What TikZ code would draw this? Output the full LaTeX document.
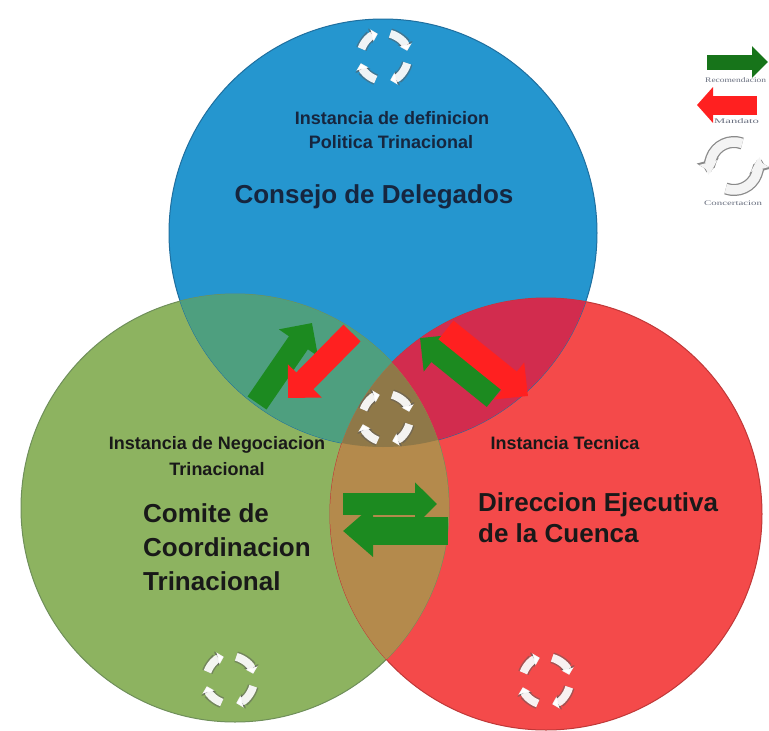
\documentclass[tikz,border=0pt]{standalone}
\usepackage{fontspec}
\setmainfont{Liberation Sans}
\newfontfamily\legfont{Liberation Serif}
\usetikzlibrary{arrows.meta}
\definecolor{cblue}{HTML}{2596CF}
\definecolor{cgreen}{HTML}{8DB360}
\definecolor{cred}{HTML}{F44A4A}
\definecolor{cbg}{HTML}{4E9F7F}
\definecolor{cbr}{HTML}{D22C4E}
\definecolor{cgr}{HTML}{B48A4C}
\definecolor{cbgr}{HTML}{8F7848}
\definecolor{eblue}{HTML}{1F6F9F}
\definecolor{egreen}{HTML}{6F8F5A}
\definecolor{ered}{HTML}{C03838}
\definecolor{arrgreen}{HTML}{1C8A20}
\definecolor{legdkgreen}{HTML}{17741A}
\definecolor{arrred}{HTML}{FF2020}
\definecolor{navytext}{HTML}{16263F}
\definecolor{legtext}{HTML}{6A7080}
\definecolor{cycedge}{HTML}{5A5A5A}
\definecolor{legedge}{HTML}{8A8A8A}
\definecolor{legfill}{HTML}{F4F4F4}
\begin{document}
\begin{tikzpicture}[x=1pt,y=-1pt,
  small/.style={font=\bfseries\fontsize{18}{23}\selectfont, inner sep=0pt},
  big/.style={font=\bfseries\fontsize{26}{34}\selectfont, inner sep=0pt},
  legtxt/.style={font=\legfont\fontsize{7}{8}\selectfont, text=legtext, inner sep=0pt, anchor=west},
  garrow/.style={draw=arrgreen, line width=23pt, -{Triangle[length=24pt,width=46pt]}},
  rarrow/.style={draw=arrred, line width=24pt, -{Triangle[length=24pt,width=46pt]}},
  cyc/.pic={
    \begin{scope}[yscale=-1]
      \foreach \a/\b in {160/105, 75/15, 250/195, 345/285}{
        \draw[line width=11pt, draw=cycedge, draw opacity=0.5, -{Triangle[length=8pt,width=15pt]}]
          (\a:24) arc[start angle=\a, end angle=\b, radius=24];
      }
      \foreach \a/\b in {160/105, 75/15, 250/195, 345/285}{
        \draw[line width=8pt, draw=white, draw opacity=0.92, -{Triangle[length=6pt,width=12pt]}]
          (\a:24) arc[start angle=\a, end angle=\b, radius=24];
      }
    \end{scope}
  },
  legcyc/.pic={
    \begin{scope}[yscale=-1]
      \foreach \a/\b in {70/195, 250/375}{
        \draw[line width=12pt, draw=legedge, -{Triangle[length=12pt,width=22pt]}]
          (\a:24) arc[start angle=\a, end angle=\b, radius=24];
      }
      \foreach \a/\b in {70/195, 250/375}{
        \draw[line width=9.5pt, draw=legfill, -{Triangle[length=10pt,width=18pt]}]
          (\a:24) arc[start angle=\a, end angle=\b, radius=24];
      }
    \end{scope}
  }
]
\useasboundingbox (0,0) rectangle (769,731);
\fill[white] (0,0) rectangle (769,731);

\coordinate (cB) at (383,233);
\coordinate (cG) at (235,508);
\coordinate (cR) at (546,514);

% circles
\fill[cblue] (cB) circle[radius=214];
\fill[cgreen] (cG) circle[radius=214];
\fill[cred] (cR) circle[radius=216];
\draw[eblue, line width=1pt] (cB) circle[radius=214];
\draw[egreen, line width=1pt] (cG) circle[radius=214];
\draw[ered, line width=1pt] (cR) circle[radius=216];

% overlaps
\begin{scope}
  \clip (cB) circle[radius=214];
  \fill[cbg] (cG) circle[radius=214];
\end{scope}
\begin{scope}
  \clip (cB) circle[radius=214];
  \fill[cbr] (cR) circle[radius=216];
\end{scope}
\begin{scope}
  \clip (cG) circle[radius=214];
  \fill[cgr] (cR) circle[radius=216];
\end{scope}
\begin{scope}
  \clip (cB) circle[radius=214];
  \clip (cG) circle[radius=214];
  \fill[cbgr] (cR) circle[radius=216];
\end{scope}

% arrows: upper left
\coordinate (ulgT) at (257,403);
\coordinate (ulgH) at (312,323);
\coordinate (ulrT) at (352,333);
\coordinate (ulrH) at (288,398);
\draw[garrow] (ulgT) -- (ulgH);
\draw[rarrow] (ulrT) -- (ulrH);

% arrows: upper right
\coordinate (urgT) at (494,398);
\coordinate (urgH) at (420,338);
\coordinate (urrT) at (446,330);
\coordinate (urrH) at (528,396);
\draw[garrow] (urgT) -- (urgH);
\draw[rarrow] (urrT) -- (urrH);

% arrows: bottom
\coordinate (b1T) at (343,504);
\coordinate (b1H) at (437,504);
\coordinate (b2T) at (448,531);
\coordinate (b2H) at (343,531);
\draw[draw=arrgreen, line width=22pt, -{Triangle[length=22pt,width=42pt]}] (b1T) -- (b1H);
\draw[draw=arrgreen, line width=28pt, -{Triangle[length=30pt,width=50pt]}] (b2T) -- (b2H);

% cycle icons
\pic at (384,57) {cyc};
\pic at (386,418) {cyc};
\pic at (230,680) {cyc};
\pic at (546,681) {cyc};

% texts
\node[small, text=navytext] (t1) at (392,118) {Instancia de definicion};
\node[small, text=navytext] (t2) at (391,142) {Politica Trinacional};
\node[big, text=navytext] (t3) at (374,197) {Consejo de Delegados};
\node[small, text=black!90] (t4) at (217,445) {Instancia de Negociacion};
\node[small, text=black!90] (t5) at (217,469) {Trinacional};
\node[big, text=black!90, align=left, anchor=west] (t6) at (143,547) {Comite de\\Coordinacion\\Trinacional};
\node[small, text=black!90] (t7) at (565,443) {Instancia Tecnica};
\node[big, text=black!90, align=left, anchor=west, font=\bfseries\fontsize{26}{31}\selectfont] (t8) at (478,518) {Direccion Ejecutiva\\de la Cuenca};

% legend
\coordinate (lgT) at (707,62);
\coordinate (lgH) at (768,62);
\draw[draw=legdkgreen, line width=15pt, -{Triangle[length=16pt,width=31pt]}] (lgT) -- (lgH);
\node[legtxt] (l1) at (705,80) {\scalebox{1.35}[1]{Recomendacion}};
\coordinate (lrT) at (757,105);
\coordinate (lrH) at (697,105);
\draw[draw=arrred, line width=19pt, -{Triangle[length=16pt,width=35pt]}] (lrT) -- (lrH);
\node[legtxt] (l2) at (714,121) {\scalebox{1.8}[1]{Mandato}};
\pic at (734,166) {legcyc};
\node[legtxt] (l3) at (704,203) {\scalebox{1.55}[1]{Concertacion}};
\end{tikzpicture}
\end{document}
